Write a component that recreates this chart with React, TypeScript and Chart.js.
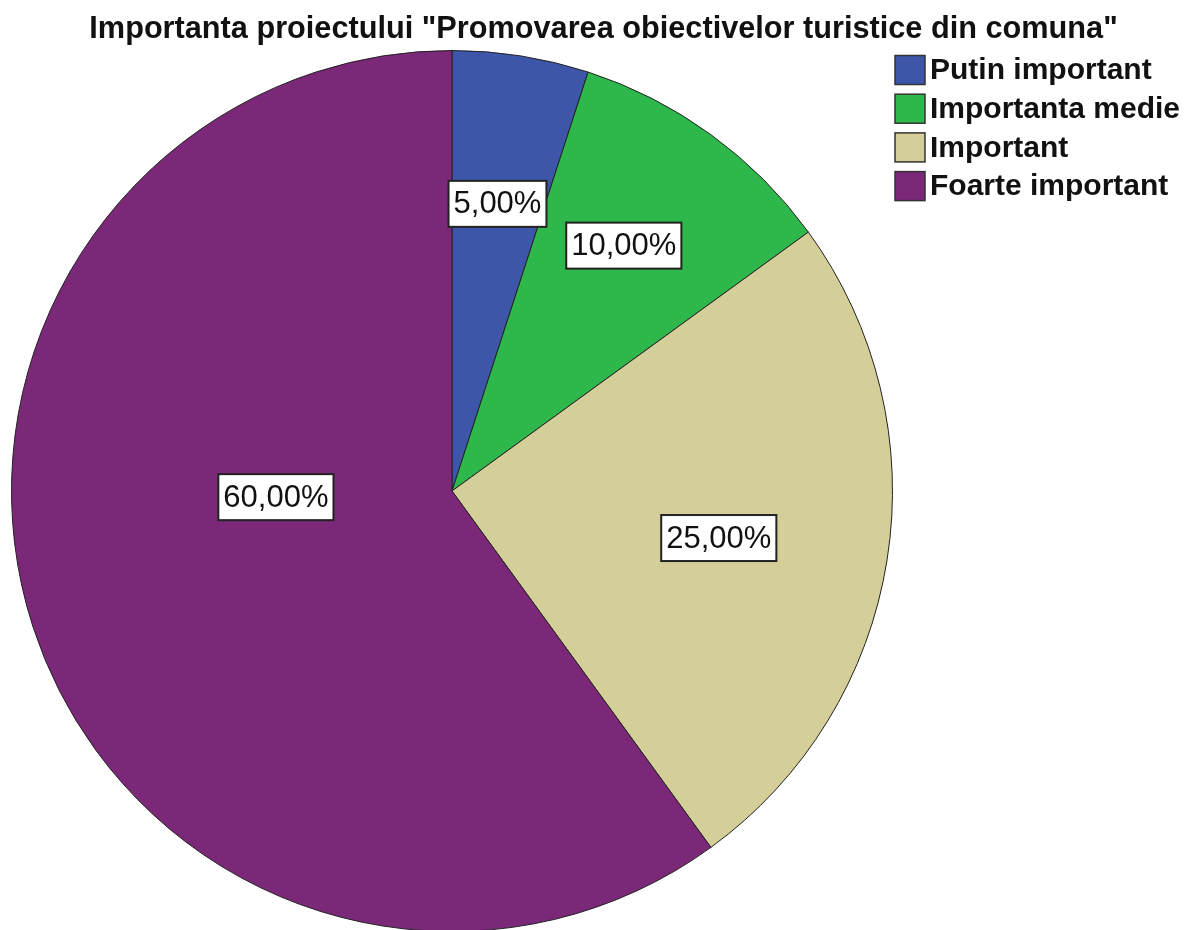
import React, { useEffect, useRef } from "react";
import { Chart, registerables } from "chart.js";

Chart.register(...registerables);

const TITLE = 'Importanta proiectului "Promovarea obiectivelor turistice din comuna"';
const categories = ["Putin important", "Importanta medie", "Important", "Foarte important"];
const percentages = [5, 10, 25, 60];
const sliceColors = ["#3d56a9", "#2eb84c", "#d4cf98", "#7c2878"];
// label placement: angle (deg, clockwise from top) and fraction of radius
const labelAngles = [9, 35, 100, 268];
const labelRadii = [0.66, 0.68, 0.615, 0.4];

const FONT = '"Liberation Sans", Arial, sans-serif';

const titlePlugin = {
  id: "spssTitle",
  afterDraw(chart: any) {
    const ctx = chart.ctx;
    ctx.save();
    ctx.font = `bold 30.7px ${FONT}`;
    ctx.fillStyle = "#111";
    ctx.textAlign = "center";
    ctx.textBaseline = "middle";
    ctx.fillText(TITLE, chart.width / 2 + 10, 22);
    ctx.restore();
  },
};

const legendPlugin = {
  id: "spssLegend",
  afterDraw(chart: any) {
    const ctx = chart.ctx;
    const labels = chart.data.labels as string[];
    const colors = chart.data.datasets[0].backgroundColor as string[];
    const x0 = chart.chartArea.right + 2;
    const y0 = 62;
    const step = 38.7;
    ctx.save();
    ctx.font = `bold 30px ${FONT}`;
    ctx.textBaseline = "middle";
    ctx.textAlign = "left";
    labels.forEach((lab, i) => {
      const cy = y0 + i * step;
      ctx.fillStyle = colors[i];
      ctx.fillRect(x0, cy - 14.5, 30, 29);
      ctx.strokeStyle = "#333";
      ctx.lineWidth = 1.5;
      ctx.strokeRect(x0, cy - 14.5, 30, 29);
      ctx.fillStyle = "#111";
      ctx.fillText(lab, x0 + 35, cy + 1);
    });
    ctx.restore();
  },
};

const valueLabelPlugin = {
  id: "spssValueLabels",
  afterDatasetsDraw(chart: any) {
    const ctx = chart.ctx;
    const meta = chart.getDatasetMeta(0);
    const values = chart.data.datasets[0].data as number[];
    ctx.save();
    ctx.font = `31px ${FONT}`;
    ctx.textBaseline = "middle";
    ctx.textAlign = "center";
    meta.data.forEach((arc: any, i: number) => {
      const { x, y, outerRadius } = arc.getProps(["x", "y", "outerRadius"], true);
      const a = -Math.PI / 2 + (labelAngles[i] * Math.PI) / 180;
      const r = outerRadius * labelRadii[i];
      const px = x + r * Math.cos(a);
      const py = y + r * Math.sin(a);
      const text = values[i].toFixed(2).replace(".", ",") + "%";
      const w = ctx.measureText(text).width + 10;
      const h = 46;
      ctx.fillStyle = "#ffffff";
      ctx.fillRect(px - w / 2, py - h / 2, w, h);
      ctx.strokeStyle = "#222";
      ctx.lineWidth = 2;
      ctx.strokeRect(px - w / 2, py - h / 2, w, h);
      ctx.fillStyle = "#111";
      ctx.fillText(text, px, py + 1);
    });
    ctx.restore();
  },
};

export default function App() {
  const ref = useRef<HTMLCanvasElement | null>(null);
  useEffect(() => {
    if (!ref.current) return;
    const chart = new Chart(ref.current, {
      type: "pie",
      data: {
        labels: categories,
        datasets: [
          {
            data: percentages,
            backgroundColor: sliceColors,
            borderColor: "#222",
            borderWidth: 1,
          },
        ],
      },
      options: {
        responsive: false,
        animation: false,
        layout: { padding: { top: 42, left: 3, right: 286, bottom: 0 } },
        plugins: {
          legend: { display: false },
          title: { display: false },
          tooltip: { enabled: false },
        },
      },
      plugins: [titlePlugin, legendPlugin, valueLabelPlugin],
    });
    return () => chart.destroy();
  }, []);
  return <canvas ref={ref} width={1171} height={924} style={{ display: "block" }} />;
}
